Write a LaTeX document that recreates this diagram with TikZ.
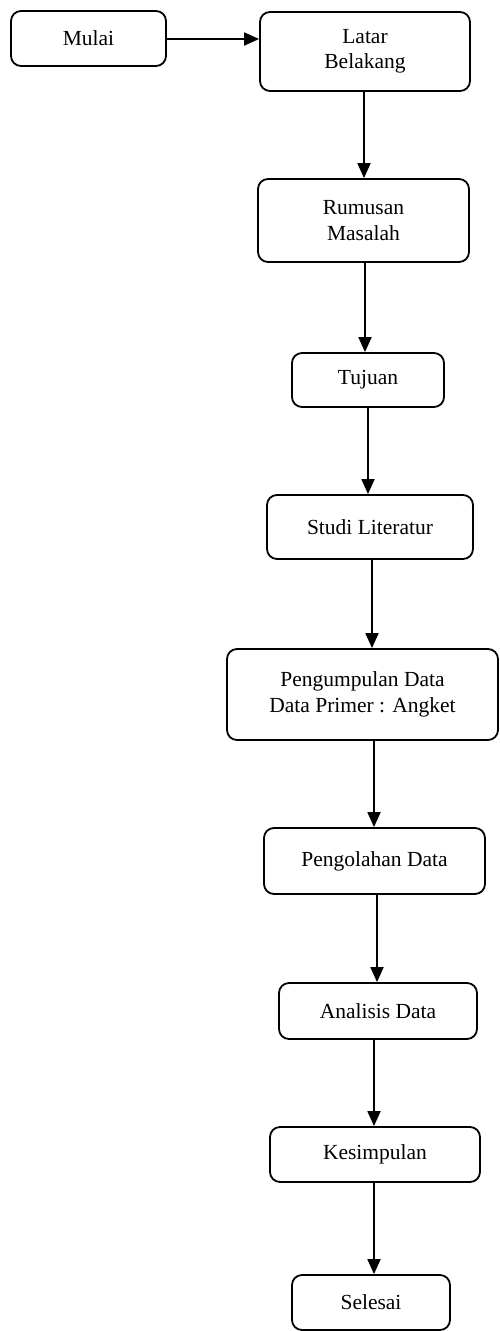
\documentclass[tikz,border=0pt]{standalone}
\usepackage{fontspec}
\setmainfont{Liberation Serif}
\usetikzlibrary{arrows.meta}
\tikzset{
  box/.style={draw, line width=1.8pt, rounded corners=10pt, align=center, inner sep=0pt,
    font=\fontsize{21.5pt}{25.5pt}\selectfont},
  flow/.style={line width=1.8pt, -{Triangle[length=15pt,width=13pt]}}
}
\begin{document}
\begin{tikzpicture}[x=1pt,y=-1pt]
\useasboundingbox (0,0) rectangle (499,1331);
\node[box, minimum width=155pt, minimum height=55pt] (mulai) at (88.5,38.5) {Mulai};
\node[box, minimum width=210pt, minimum height=79pt] (latar) at (365,51.5) {Latar\\Belakang};
\node[box, minimum width=211pt, minimum height=83pt] (rumusan) at (363.5,220.5) {Rumusan\\Masalah};
\node[box, minimum width=152pt, minimum height=54pt] (tujuan) at (368,380) {Tujuan};
\node[box, minimum width=206pt, minimum height=64pt] (studi) at (370,527) {Studi Literatur};
\node[box, minimum width=271pt, minimum height=91pt] (kumpul) at (362.5,694.5) {Pengumpulan Data\\Data Primer : Angket};
\node[box, minimum width=221pt, minimum height=66pt] (olah) at (374.5,861) {Pengolahan Data};
\node[box, minimum width=198pt, minimum height=56pt] (analisis) at (378,1011) {Analisis Data};
\node[box, minimum width=210pt, minimum height=55pt] (simpul) at (375,1154.5) {Kesimpulan};
\node[box, minimum width=158pt, minimum height=55pt] (selesai) at (371,1302.5) {Selesai};

\coordinate (c0) at (0,39);
\coordinate (c1) at (364,0);
\coordinate (c2) at (365,0);
\coordinate (c3) at (368,0);
\coordinate (c4) at (372,0);
\coordinate (c5) at (374,0);
\coordinate (c6) at (377,0);
\coordinate (c7) at (374,0);
\coordinate (c8) at (374,0);

\draw[flow] (mulai.east |- c0) -- (latar.west |- c0);
\draw[flow] (latar.south -| c1) -- (rumusan.north -| c1);
\draw[flow] (rumusan.south -| c2) -- (tujuan.north -| c2);
\draw[flow] (tujuan.south -| c3) -- (studi.north -| c3);
\draw[flow] (studi.south -| c4) -- (kumpul.north -| c4);
\draw[flow] (kumpul.south -| c5) -- (olah.north -| c5);
\draw[flow] (olah.south -| c6) -- (analisis.north -| c6);
\draw[flow] (analisis.south -| c7) -- (simpul.north -| c7);
\draw[flow] (simpul.south -| c8) -- (selesai.north -| c8);
\end{tikzpicture}
\end{document}
